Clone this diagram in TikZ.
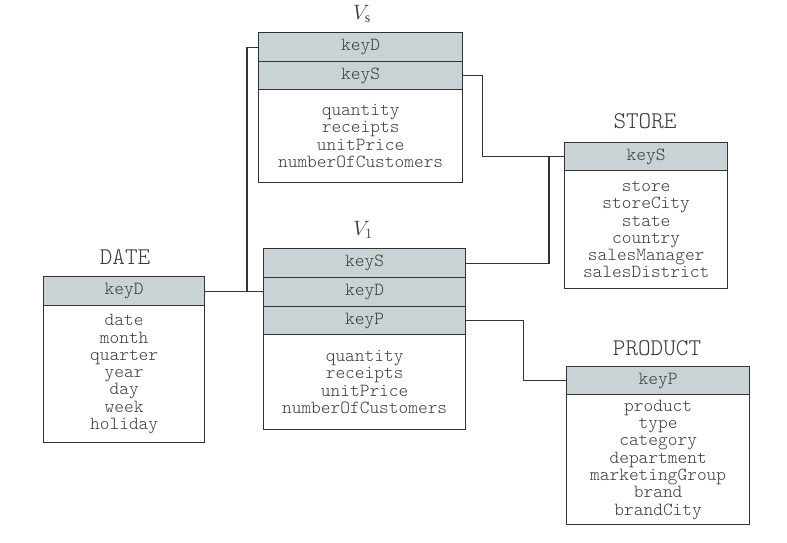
\documentclass[tikz,border=0pt]{standalone}
\usepackage{fontspec}
\setmainfont{Liberation Serif}
\setmonofont{Latin Modern Mono Light}
\definecolor{keyfill}{HTML}{C9D3D5}
\definecolor{linec}{HTML}{333333}
\definecolor{txtc}{HTML}{3A3A3A}
\begin{document}
\begin{tikzpicture}[x=1pt,y=-1pt,
  keyrow/.style={draw=linec, line width=1.3pt, fill=keyfill, anchor=north west,
    inner sep=0pt, font=\ttfamily\fontsize{18.5}{17}\selectfont, text=txtc},
  bodybox/.style={draw=linec, line width=1.3pt, fill=white, anchor=north west,
    inner sep=0pt, align=center, font=\ttfamily\fontsize{18.5}{17.3}\selectfont, text=txtc},
  ttitle/.style={font=\ttfamily\fontsize{24}{24}\selectfont, text=txtc},
  vtitle/.style={font=\fontsize{20}{22}\selectfont, text=txtc},
  conn/.style={draw=linec, line width=1.1pt}
]
\useasboundingbox (0,0) rectangle (787,543);

% V_s
\node[vtitle] (vsT) at (362,14) {$V_{\mathrm{s}}$};
\node[keyrow, minimum width=204pt, minimum height=29pt] (vsD) at (258,32) {keyD};
\node[keyrow, minimum width=204pt, minimum height=28pt] (vsS) at (258,61) {keyS};
\node[bodybox, minimum width=204pt, minimum height=93pt] (vsB) at (258,89)
  {quantity\\receipts\\unitPrice\\numberOfCustomers};

% V_1
\node[vtitle] (v1T) at (363,230) {$V_{1}$};
\node[keyrow, minimum width=202pt, minimum height=29pt] (v1S) at (263,248) {keyS};
\node[keyrow, minimum width=202pt, minimum height=29pt] (v1D) at (263,277) {keyD};
\node[keyrow, minimum width=202pt, minimum height=28pt] (v1P) at (263,306) {keyP};
\node[bodybox, minimum width=202pt, minimum height=95pt] (v1B) at (263,334)
  {quantity\\receipts\\unitPrice\\numberOfCustomers};

% DATE
\node[ttitle] (dT) at (125,257) {DATE};
\node[keyrow, minimum width=161pt, minimum height=29pt] (dD) at (43,276) {keyD};
\node[bodybox, minimum width=161pt, minimum height=137pt] (dB) at (43,305)
  {date\\month\\quarter\\year\\day\\week\\holiday};

% STORE
\node[ttitle] (sT) at (645,121) {STORE};
\node[keyrow, minimum width=163pt, minimum height=28pt] (sS) at (564,142) {keyS};
\node[bodybox, minimum width=163pt, minimum height=118pt] (sB) at (564,170)
  {store\\storeCity\\state\\country\\salesManager\\salesDistrict};

% PRODUCT
\node[ttitle] (pT) at (657,348) {PRODUCT};
\node[keyrow, minimum width=183pt, minimum height=28pt] (pP) at (566,366) {keyP};
\node[bodybox, minimum width=183pt, minimum height=130pt] (pB) at (566,394)
  {product\\type\\category\\department\\marketingGroup\\brand\\brandCity};

% connectors
\path (dD.east) ++(43,0) coordinate (jD);
\draw[conn] (dD.east) -- (dD.east -| v1D.west);
\draw[conn] (vsD.west) -- ++(-11,0) |- (jD);
\draw[conn] (vsS.east) -- ++(19,0) |- (sS.west);
\path (sS.west) ++(-15,0) coordinate (jS);
\draw[conn] (v1S.east) -| (jS);
\draw[conn] (v1P.east) -- ++(57,0) |- (pP.west);
\end{tikzpicture}
\end{document}
